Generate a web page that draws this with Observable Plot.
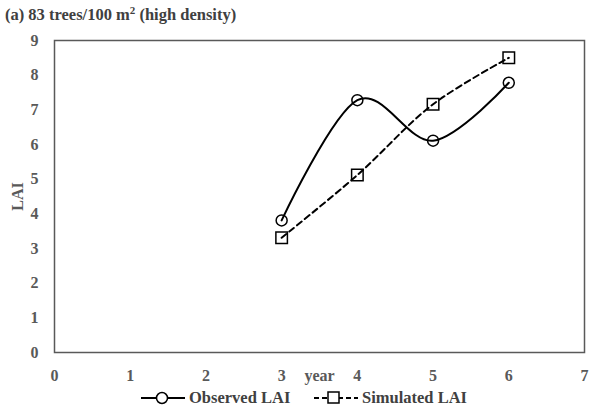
<!DOCTYPE html>
<html><head><meta charset="utf-8">
<script src="https://cdn.jsdelivr.net/npm/d3@7"></script>
<script src="https://cdn.jsdelivr.net/npm/@observablehq/plot@0.6"></script>
<style>
body{margin:0;background:#fff;font-family:"Liberation Serif","Times New Roman",serif;}
#title{height:26px;font-weight:bold;font-size:16.5px;color:#404040;padding-left:5px;line-height:30px;white-space:nowrap;}
#legend{height:22px;position:relative;font-weight:bold;font-size:16.5px;color:#404040;}
.li{position:absolute;top:0;display:flex;align-items:center;height:20px;}
.li span{margin-left:4px;}
</style></head>
<body>
<div id="title">(a) 83 trees/100 m<sup style="font-size:11px;vertical-align:6px;line-height:0">2</sup> (high density)</div>
<div id="chart"></div>
<div id="legend">
 <div class="li" style="left:141px"><svg width="44" height="20"><line x1="0" y1="10" x2="44" y2="10" stroke="#000" stroke-width="2"/><circle cx="21" cy="10" r="5.5" fill="#fff" stroke="#000" stroke-width="1.5"/></svg><span>Observed LAI</span></div>
 <div class="li" style="left:314px"><svg width="44" height="20"><line x1="0" y1="10" x2="44" y2="10" stroke="#000" stroke-width="2" stroke-dasharray="5,3"/><rect x="14" y="4" width="11" height="11" fill="#fff" stroke="#000" stroke-width="1.5"/></svg><span>Simulated LAI</span></div>
</div>
<script>
const years = [3, 4, 5, 6];
const observedLAI = [3.81, 7.28, 6.11, 7.78];
const simulatedLAI = [3.31, 5.12, 7.16, 8.50];
const xTicks = [0, 1, 2, 3, 4, 5, 6, 7];
const yTicks = [0, 1, 2, 3, 4, 5, 6, 7, 8, 9];

const obs = years.map((y, i) => ({year: y, lai: observedLAI[i]}));
const sim = years.map((y, i) => ({year: y, lai: simulatedLAI[i]}));

const plot = Plot.plot({
  width: 589,
  height: 362,
  marginTop: 14,
  marginBottom: 36,
  marginLeft: 54,
  marginRight: 5,
  style: {fontFamily: '"Liberation Serif","Times New Roman",serif', fontSize: "16px", fontWeight: "bold", color: "#595959", background: "#fff"},
  x: {domain: [0, 7]},
  y: {domain: [0, 9]},
  marks: [
    Plot.frame({stroke: "#595959", strokeWidth: 1.5}),
    Plot.axisX({ticks: xTicks, tickSize: 0, tickPadding: 17, tickFormat: d => d, label: null, fill: "#595959"}),
    Plot.axisX({ticks: [], label: "year", labelAnchor: "center", labelArrow: "none", labelOffset: 28, dx: -8, fill: "#595959"}),
    Plot.axisY({ticks: yTicks, tickSize: 0, tickPadding: 16, tickFormat: d => d, label: "LAI", labelAnchor: "center", labelArrow: "none", labelOffset: 43, fill: "#595959"}),
    Plot.line(sim, {x: "year", y: "lai", curve: "catmull-rom", stroke: "#000", strokeWidth: 2, strokeDasharray: "6,4"}),
    Plot.line(obs, {x: "year", y: "lai", curve: "cardinal", stroke: "#000", strokeWidth: 2}),
    Plot.dot(sim, {x: "year", y: "lai", symbol: "square", r: 6.5, stroke: "#000", strokeWidth: 1.5, fill: "none"}),
    Plot.dot(obs, {x: "year", y: "lai", symbol: "circle", r: 5.5, stroke: "#000", strokeWidth: 1.5, fill: "none"})
  ]
});
document.getElementById("chart").appendChild(plot);
</script>
</body></html>
